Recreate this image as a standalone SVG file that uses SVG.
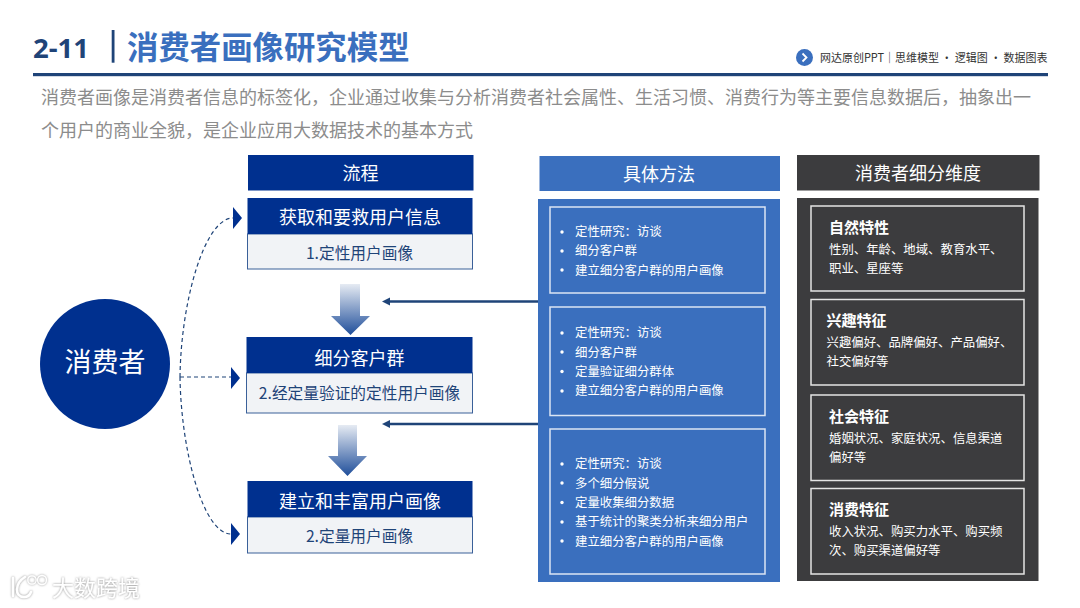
<svg xmlns="http://www.w3.org/2000/svg" width="1080" height="608" viewBox="0 0 1080 608">
<style>
text{font-family:"Noto Sans CJK SC","Liberation Sans",sans-serif}
.hd{font-size:18px;fill:#fff;text-anchor:middle}
.nt{font-size:18px;fill:#fff;text-anchor:middle}
.ns{font-size:15.700px;fill:#1f4478;text-anchor:middle}
.li{font-size:12.400px;fill:#fff}
.dt{font-size:15px;fill:#fff;font-weight:700}
.db{font-size:12.400px;fill:#fff}
.ib{fill:none;stroke:#dbe5f4;stroke-width:1.500}
.ig{fill:none;stroke:#e4e4e4;stroke-width:1.500}
.dash{fill:none;stroke:#1f4478;stroke-width:1.200;stroke-dasharray:4 3}
.tip{fill:#00308f}
.blue{fill:#00308f}
.pale{fill:#f1f3f6;stroke:#3a6099;stroke-width:1}
.lnk{stroke:#1f4478;stroke-width:2.400;fill:none}
.wm{font-size:22px;fill:#fff}
</style>
<defs>
<linearGradient id="g" x1="0" y1="0" x2="0" y2="1"><stop offset="0" stop-color="#e6ebf3"/><stop offset="1" stop-color="#1f4e9a"/></linearGradient>
<filter id="halo" x="-10%" y="-30%" width="120%" height="160%"><feDropShadow dx="0" dy="0" stdDeviation="1.300" flood-color="#8a8a8a"/></filter>
</defs>
<rect width="1080" height="608" fill="#fff"/>
<g id="header">
<text x="33" y="57.500" font-size="27.500" font-weight="700" fill="#1f4478" style="font-family:'Open Sans','Noto Sans',sans-serif">2-11</text>
<rect x="111.700" y="30" width="2.800" height="32.700" fill="#1f4478"/>
<text x="127" y="59" font-size="31.400" font-weight="700" fill="#3a6fbe">消费者画像研究模型</text>
<circle cx="804.500" cy="57.500" r="8.500" fill="#3a6fbe"/>
<path d="M802.500,53.500 L806.500,57.500 L802.500,61.500" fill="none" stroke="#fff" stroke-width="1.800"/>
<text x="820" y="61.500" font-size="11.500" fill="#333" textLength="227.500" lengthAdjust="spacingAndGlyphs">网达原创PPT｜思维模型 · 逻辑图 · 数据图表</text>
<rect x="33" y="73" width="1015" height="3.200" fill="#1f4478"/>
<text x="41" y="104" font-size="18" fill="#8c8c8c">消费者画像是消费者信息的标签化，企业通过收集与分析消费者社会属性、生活习惯、消费行为等主要信息数据后，抽象出一</text>
<text x="41" y="136.500" font-size="18" fill="#8c8c8c">个用户的商业全貌，是企业应用大数据技术的基本方式</text>
</g>
<g id="connectors">
<path class="dash" d="M180,377 C181,300 205,218 233,218"/>
<path class="dash" d="M180,377 H231"/>
<path class="dash" d="M180,377 C181,450 203,534 231,534"/>
<path class="tip" d="M233,207 L242,218 L233,229 Z"/>
<path class="tip" d="M231,367 L240,378 L231,389 Z"/>
<path class="tip" d="M231,523 L240,534 L231,545 Z"/>
<path class="lnk" d="M540,301.500 H388"/>
<path fill="#1f4478" d="M382,301.500 L390,297.500 V305.500 Z"/>
<path class="lnk" d="M540,424 H388"/>
<path fill="#1f4478" d="M382,424 L390,420 V428 Z"/>
<path fill="url(#g)" d="M340,284 H360 V316 H370 L350.500,335 L331,316 H340 Z"/>
<path fill="url(#g)" d="M338,425 H357 V456 H367 L347.500,476 L328,456 H338 Z"/>
</g>
<g id="consumer">
<circle cx="105" cy="364" r="65" class="blue"/>
<text x="105" y="371.500" font-size="27" fill="#fff" text-anchor="middle">消费者</text>
</g>
<g id="flow-header">
<rect x="248" y="155" width="225.500" height="35.500" class="blue"/>
<text x="360.500" y="180" class="hd">流程</text>
</g>
<g id="step1">
<rect x="247.500" y="234" width="225" height="35" class="pale"/>
<rect x="247.500" y="198" width="225" height="36" class="blue"/>
<text x="360" y="224" class="nt">获取和要救用户信息</text>
<text x="359.500" y="258.500" class="ns">1.定性用户画像</text>
</g>
<g id="step2">
<rect x="246.500" y="373" width="226" height="40" class="pale"/>
<rect x="246.500" y="337" width="226" height="36" class="blue"/>
<text x="359.500" y="365" class="nt">细分客户群</text>
<text x="359.500" y="399" class="ns">2.经定量验证的定性用户画像</text>
</g>
<g id="step3">
<rect x="247.500" y="517" width="225" height="36" class="pale"/>
<rect x="247.500" y="481" width="225" height="36" class="blue"/>
<text x="360" y="508" class="nt">建立和丰富用户画像</text>
<text x="359.500" y="542" class="ns">2.定量用户画像</text>
</g>
<g id="method-header">
<rect x="539.500" y="156" width="240.500" height="35" fill="#3a6fbe"/>
<text x="659" y="180.500" class="hd">具体方法</text>
</g>
<g id="method-panel">
<rect x="538" y="199" width="242" height="383" fill="#3a6fbe"/>
</g>
<g id="method1" fill="#fff">
<rect x="550" y="207" width="215" height="86" class="ib"/>
<circle cx="562" cy="232" r="1.700"/><text x="575" y="236" class="li">定性研究：访谈</text>
<circle cx="562" cy="251" r="1.700"/><text x="575" y="255" class="li">细分客户群</text>
<circle cx="562" cy="270" r="1.700"/><text x="575" y="274.500" class="li">建立细分客户群的用户画像</text>
</g>
<g id="method2" fill="#fff">
<rect x="550" y="307" width="215" height="108.500" class="ib"/>
<circle cx="562" cy="333" r="1.700"/><text x="575" y="337" class="li">定性研究：访谈</text>
<circle cx="562" cy="352" r="1.700"/><text x="575" y="356.500" class="li">细分客户群</text>
<circle cx="562" cy="371.500" r="1.700"/><text x="575" y="375.500" class="li">定量验证细分群体</text>
<circle cx="562" cy="391" r="1.700"/><text x="575" y="395" class="li">建立细分客户群的用户画像</text>
</g>
<g id="method3" fill="#fff">
<rect x="550" y="429" width="215" height="145" class="ib"/>
<circle cx="562" cy="464" r="1.700"/><text x="575" y="468" class="li">定性研究：访谈</text>
<circle cx="562" cy="483" r="1.700"/><text x="575" y="487.500" class="li">多个细分假说</text>
<circle cx="562" cy="502.500" r="1.700"/><text x="575" y="506.500" class="li">定量收集细分数据</text>
<circle cx="562" cy="522" r="1.700"/><text x="575" y="526" class="li">基于统计的聚类分析来细分用户</text>
<circle cx="562" cy="541" r="1.700"/><text x="575" y="545.500" class="li">建立细分客户群的用户画像</text>
</g>
<g id="dim-header">
<rect x="797" y="155" width="242.500" height="35.500" fill="#3c3c3e"/>
<text x="918" y="180" class="hd">消费者细分维度</text>
</g>
<g id="dim-panel">
<rect x="797" y="198" width="241.500" height="383" fill="#3c3c3e"/>
</g>
<g id="dim1">
<rect x="811" y="206" width="213" height="85" class="ig"/>
<text x="829" y="233" class="dt">自然特性</text>
<text x="829" y="254" class="db">性别、年龄、地域、教育水平、</text>
<text x="829" y="273" class="db">职业、星座等</text>
</g>
<g id="dim2">
<rect x="811" y="299.500" width="213" height="85.500" class="ig"/>
<text x="826.500" y="326" class="dt">兴趣特征</text>
<text x="826.500" y="347" class="db">兴趣偏好、品牌偏好、产品偏好、</text>
<text x="826.500" y="366" class="db">社交偏好等</text>
</g>
<g id="dim3">
<rect x="811" y="395" width="213" height="85.500" class="ig"/>
<text x="829" y="422" class="dt">社会特征</text>
<text x="829" y="443" class="db">婚姻状况、家庭状况、信息渠道</text>
<text x="829" y="462" class="db">偏好等</text>
</g>
<g id="dim4">
<rect x="811" y="488.500" width="213" height="85.500" class="ig"/>
<text x="829" y="515" class="dt">消费特征</text>
<text x="829" y="536" class="db">收入状况、购买力水平、购买频</text>
<text x="829" y="555" class="db">次、购买渠道偏好等</text>
</g>
<g id="watermark" filter="url(#halo)">
<path d="M13,578 V596 M25,577 C15,583 14,597 24,597 C28,597 30,595 31,592" fill="none" stroke="#fff" stroke-width="2.500" stroke-linecap="round"/>
<circle cx="32" cy="580" r="4.200" fill="none" stroke="#fff" stroke-width="1.300"/>
<circle cx="42" cy="580" r="4.500" fill="none" stroke="#fff" stroke-width="1.300"/>
<text x="52" y="596" class="wm">大数跨境</text>
</g>
</svg>
